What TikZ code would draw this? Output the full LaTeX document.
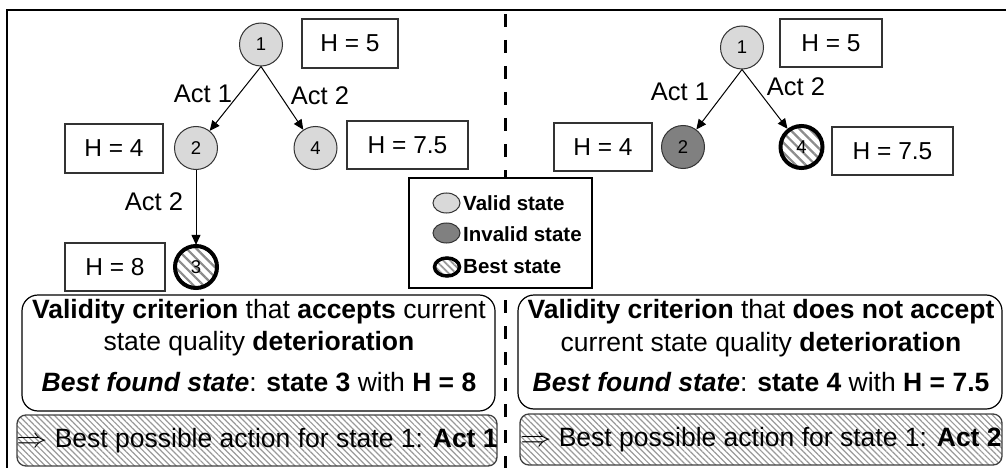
\documentclass[tikz,border=0pt]{standalone}
\usepackage{fontspec}
\setmainfont{Liberation Sans}
\usetikzlibrary{arrows.meta,patterns.meta,shapes.geometric}
\tikzset{
 st/.style={circle, draw=black!80, line width=1pt, minimum size=43pt, inner sep=0pt, font=\fontsize{18.5}{18.5}\selectfont},
 valid/.style={st, fill=black!15},
 invalid/.style={st, fill=black!50},
 best/.style={st, draw=black, line width=4pt, minimum size=42pt, pattern={Lines[angle=-45,distance=7pt,line width=2.2pt]}, pattern color=black!45},
 hbox/.style={draw=black!80, line width=1.3pt, inner sep=0pt, font=\fontsize{24.5}{24.5}\selectfont},
 act/.style={font=\fontsize{25.5}{25.5}\selectfont},
 arr/.style={-{Triangle[length=10pt,width=9pt]}, line width=1pt},
 crit/.style={draw=black, line width=1.2pt, rounded corners=16pt, inner sep=0pt},
 res/.style={draw=black!75, line width=1.3pt, rounded corners=9pt, inner sep=0pt, pattern={Lines[angle=-45,distance=4.2pt,line width=1.2pt]}, pattern color=black!40},
 big/.style={font=\fontsize{26.5}{26.5}\selectfont, inner sep=0pt},
 leg/.style={ellipse, minimum width=27pt, minimum height=20pt, inner sep=0pt, line width=1pt, draw=black!80},
 legtxt/.style={anchor=west, font=\fontsize{20.5}{20.5}\selectfont\bfseries, inner sep=0pt},
}
\newcommand{\bigimp}{\scalebox{1.25}[1.1]{$\Rightarrow$}}
\begin{document}
\begin{tikzpicture}[x=1pt,y=-1pt]
\useasboundingbox (0,0) rectangle (1006,468);
% frame and divider
\draw[line width=2.5pt] (7,468) -- (7,10) -- (1006,10);
\draw[line width=3pt, dash pattern=on 13pt off 13pt] (505,14) -- (505,468);

% ---- left tree
\node[valid] (l1) at (261,44.5) {1};
\node[valid] (l2) at (196,148) {2};
\node[valid] (l4) at (315.5,148) {4};
\node[best]  (l3) at (196,267) {3};
\node[hbox, minimum width=96pt, minimum height=49pt] (lh1) at (350,43.5) {H = 5};
\node[hbox, minimum width=98pt, minimum height=49pt] (lh2) at (114,148.5) {H = 4};
\node[hbox, minimum width=121pt, minimum height=48pt] (lh4) at (407.5,145) {H = 7.5};
\node[hbox, minimum width=100pt, minimum height=48pt] (lh3) at (115,267) {H = 8};
\draw[arr] (l1.south) -- (l2);
\draw[arr] (l1.south) -- (l4);
\draw[arr] (l2.south) -- (l3.north);
\node[act] (la1) at (203,94) {Act 1};
\node[act] (la2) at (320,96) {Act 2};
\node[act] (la3) at (154,202) {Act 2};

% ---- right tree
\node[valid]   (r1) at (742,47.5) {1};
\node[invalid] (r2) at (683,147) {2};
\node[best]    (r4) at (801.5,147) {4};
\node[hbox, minimum width=102pt, minimum height=48pt] (rh1) at (831,43) {H = 5};
\node[hbox, minimum width=98pt, minimum height=48pt] (rh2) at (603,147) {H = 4};
\node[hbox, minimum width=121pt, minimum height=48pt] (rh4) at (892.5,151) {H = 7.5};
\draw[arr] (r1.south) -- (r2);
\draw[arr] (r1.south) -- (r4);
\node[act] (ra1) at (680,92) {Act 1};
\node[act] (ra2) at (796,87) {Act 2};

% ---- legend
\node[draw=black, fill=white, line width=1.3pt, minimum width=183pt, minimum height=110pt, inner sep=0pt] (legend) at (500.5,233) {};
\node[leg, fill=black!15] (lv) at (446.5,203) {};
\node[leg, fill=black!50] (li) at (446.5,233) {};
\node[leg, draw=black, line width=3.5pt, minimum width=25pt, minimum height=18pt, pattern={Lines[angle=-45,distance=5pt,line width=1.8pt]}, pattern color=black!40] (lb) at (447,267) {};
\node[legtxt] (lvt) at (463,203) {Valid state};
\node[legtxt] (lit) at (463,234) {Invalid state};
\node[legtxt] (lbt) at (463,267) {Best state};

% ---- left bottom
\node[crit, minimum width=473pt, minimum height=116pt] (lc) at (258.5,353) {};
\node[big] (lc1) at (259,312) {\textbf{Validity criterion} that \textbf{accepts} current};
\node[big] (lc2) at (259,344) {state quality \textbf{deterioration}};
\node[big] (lc3) at (259,382) {\textbf{\textit{Best found state}}: \textbf{state 3} with \textbf{H = 8}};
\node[res, minimum width=480pt, minimum height=51pt] (lr) at (257,440.5) {};
\node[big] (lrt) at (257,441) {\bigimp\ Best possible action for state 1: \textbf{Act 1}};

% ---- right bottom
\node[crit, minimum width=484pt, minimum height=114pt] (rc) at (760,352) {};
\node[big] (rc1) at (761,312) {\textbf{Validity criterion} that \textbf{does not accept}};
\node[big] (rc2) at (761,345) {current state quality \textbf{deterioration}};
\node[big] (rc3) at (761,382) {\textbf{\textit{Best found state}}: \textbf{state 4} with \textbf{H = 7.5}};
\node[res, minimum width=482pt, minimum height=51pt] (rr) at (761,439.5) {};
\node[big] (rrt) at (761,440) {\bigimp\ Best possible action for state 1: \textbf{Act 2}};
\end{tikzpicture}
\end{document}
